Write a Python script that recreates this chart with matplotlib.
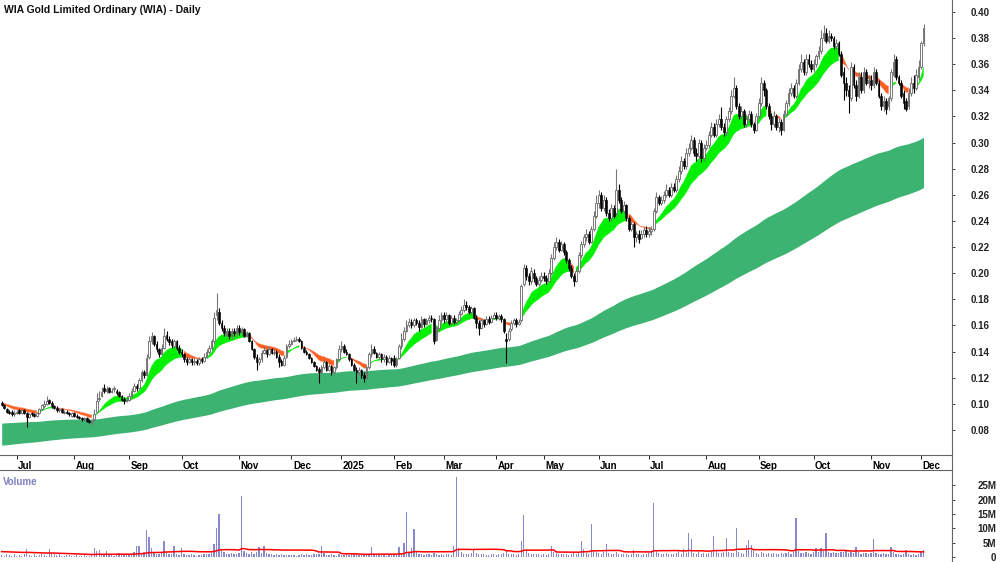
import numpy as np
import pandas as pd
import matplotlib
matplotlib.use('Agg')
import matplotlib.pyplot as plt
import matplotlib.transforms as mtransforms
from matplotlib.lines import Line2D

plt.rcParams['font.family'] = ['Liberation Sans', 'DejaVu Sans']

title = "WIA Gold Limited Ordinary (WIA) - Daily"

# ASX trading days shown (Jun 21 2024 .. Dec 2 2025)
holidays = ["2024-12-25", "2024-12-26", "2025-01-01", "2025-01-27",
            "2025-04-18", "2025-04-21", "2025-04-25", "2025-06-09"]
dates = pd.bdate_range("2024-06-21", "2025-12-02", freq="C", holidays=holidays)

# prices in cents, one line per month
opens = [
    10.1, 9.9, 9.6, 9.4, 9.4, 9.2,
    9.3, 9.5, 9.3, 9.5, 9.3, 9.0, 9.3, 9.2, 9.1, 9.3, 9.6, 9.8, 10.0, 10.3, 10.1, 9.8, 9.7, 9.5, 9.6, 9.3, 9.4, 9.3, 9.1,
    9.3, 9.1, 9.0, 8.9, 8.8, 8.9, 8.7, 8.6, 8.8, 9.4, 10.4, 10.6, 11.2, 11.0, 11.2, 10.9, 11.1, 11.0, 10.9, 10.6, 10.4, 10.2,
    10.3, 10.6, 11.0, 11.4, 11.2, 11.8, 12.4, 12.2, 13.6, 14.8, 15.2, 14.6, 14.2, 13.8, 14.3, 15.3, 15.0, 14.8, 14.4, 14.8, 14.3,
    14.0, 13.8, 13.4, 13.2, 13.4, 13.2, 13.3, 13.1, 13.4, 13.3, 13.6, 14.0, 14.3, 14.8, 16.8, 17.0, 16.2, 15.8, 15.3, 15.6, 15.2, 15.6, 15.4,
    15.8, 15.5, 15.7, 15.2, 15.4, 14.8, 14.2, 13.6, 13.2, 13.4, 13.9, 14.1, 13.8, 14.2, 13.9, 14.0, 13.6, 13.3, 13.0, 13.6, 14.4,
    14.6, 14.8, 14.9, 15.0, 14.8, 14.3, 14.0, 13.8, 13.5, 13.2, 12.9, 12.7, 12.4, 12.8, 13.2, 12.6, 12.9, 12.4, 12.8, 13.4,
    14.2, 14.4, 14.0, 13.8, 13.4, 13.0, 12.6, 12.4, 12.6, 12.2, 12.0, 12.8, 13.8, 14.2, 13.9, 13.6, 13.8, 13.4, 13.6, 13.2, 13.5,
    13.5, 13.0, 13.5, 14.4, 15.0, 15.6, 16.0, 16.3, 16.0, 16.4, 16.2, 15.9, 16.5, 16.1, 16.4, 16.6, 16.5, 14.9, 15.8, 16.4,
    16.8, 16.5, 16.8, 16.2, 16.6, 16.3, 16.4, 16.9, 17.2, 17.6, 17.4, 17.0, 17.3, 16.6, 16.2, 15.8, 16.4, 16.1, 16.5, 16.3, 16.6,
    16.8, 16.6, 16.7, 16.5, 15.0, 15.0, 15.7, 16.2, 16.4, 16.1, 16.4, 19.2, 20.4, 19.8, 19.4, 20.0, 19.6, 19.2, 19.5,
    19.8, 19.6, 19.4, 20.0, 21.2, 22.0, 22.4, 21.8, 22.2, 21.6, 21.0, 20.4, 19.8, 19.4, 20.2, 21.4, 22.2, 22.8, 23.0, 22.4, 23.4, 24.4,
    25.4, 26.0, 25.0, 25.6, 24.6, 24.2, 25.0, 24.6, 26.4, 25.6, 24.8, 25.2, 24.2, 23.4, 23.8, 22.8, 23.0, 22.7, 23.0, 23.3,
    23.0, 23.2, 23.4, 24.8, 25.8, 25.4, 25.6, 26.0, 26.4, 26.0, 26.6, 26.4, 27.2, 27.8, 28.6, 28.2, 29.2, 29.6, 30.2, 29.2, 29.0, 30.0, 28.8,
    29.6, 29.8, 30.6, 31.2, 30.6, 31.4, 31.8, 31.2, 30.8, 31.8, 32.4, 33.6, 34.2, 32.8, 32.0, 32.4, 31.4, 31.8, 32.2, 31.4, 31.0,
    32.0, 33.0, 34.6, 34.0, 32.8, 32.0, 31.4, 32.0, 31.2, 31.6, 31.0, 32.2, 33.0, 33.8, 34.2, 33.6, 34.6, 35.6, 36.2, 35.4, 36.4, 36.0,
    35.6, 36.0, 36.6, 37.0, 38.0, 38.4, 37.8, 38.2, 38.0, 37.4, 37.6, 36.8, 35.4, 34.6, 34.0, 33.4, 35.8, 34.4, 33.6, 35.0, 34.0, 35.4, 34.6,
    34.8, 34.4, 35.4, 34.6, 33.6, 32.8, 33.2, 32.8, 33.4, 35.2, 36.4, 35.0, 34.6, 33.8, 33.2, 32.8, 33.8, 34.6, 34.2, 35.0,
    35.8, 37.6,
]
highs = [
    10.2, 10.0, 9.7, 9.5, 9.5, 9.5,
    9.5, 9.6, 9.6, 9.6, 9.4, 9.3, 9.4, 9.3, 9.4, 9.7, 10.0, 10.3, 10.6, 10.4, 10.2, 9.9, 9.8, 9.7, 9.7, 9.5, 9.5, 9.4, 9.4,
    9.4, 9.2, 9.1, 9.0, 9.0, 9.0, 8.8, 8.8, 9.6, 10.8, 11.0, 11.3, 11.5, 11.4, 11.3, 11.2, 11.4, 11.1, 11.0, 10.7, 10.5, 10.6,
    10.8, 11.2, 11.6, 11.5, 12.0, 12.6, 12.6, 13.8, 15.2, 15.5, 15.3, 14.8, 14.3, 14.6, 15.8, 15.6, 15.2, 15.0, 15.0, 14.9, 14.5,
    14.2, 13.9, 13.6, 13.6, 13.5, 13.5, 13.4, 13.6, 13.6, 13.9, 14.2, 14.5, 15.0, 17.0, 18.5, 17.3, 16.4, 16.0, 15.8, 15.8, 15.8, 15.8, 16.0,
    16.0, 15.9, 15.8, 15.6, 15.5, 14.9, 14.3, 13.8, 13.6, 14.1, 14.4, 14.2, 14.4, 14.3, 14.2, 14.1, 13.8, 13.4, 13.7, 14.6, 14.9,
    15.0, 15.1, 15.2, 15.1, 14.9, 14.4, 14.1, 13.9, 13.6, 13.3, 13.0, 12.8, 13.0, 13.4, 13.3, 13.1, 13.0, 12.9, 13.5, 14.5,
    14.8, 14.6, 14.2, 13.9, 13.5, 13.1, 12.8, 12.8, 12.7, 12.4, 13.0, 14.0, 14.6, 14.4, 14.0, 14.0, 13.9, 13.8, 13.7, 13.7, 13.6,
    13.7, 13.6, 14.6, 15.4, 15.9, 16.4, 16.6, 16.5, 16.6, 16.6, 16.4, 16.7, 16.6, 16.6, 16.8, 16.8, 16.6, 16.0, 16.8, 17.0,
    17.0, 17.0, 16.9, 16.8, 16.8, 16.6, 17.1, 17.5, 18.0, 17.9, 17.6, 17.5, 17.4, 16.8, 16.4, 16.6, 16.5, 16.7, 16.7, 16.8, 17.0,
    17.0, 16.9, 16.9, 16.6, 15.4, 15.8, 16.4, 16.6, 16.6, 16.5, 19.2, 20.7, 20.6, 20.0, 20.5, 20.3, 19.8, 19.8, 20.1,
    20.1, 19.9, 20.3, 21.5, 22.4, 22.8, 22.6, 22.5, 22.4, 21.8, 21.2, 20.6, 20.0, 20.4, 21.6, 22.5, 23.0, 23.4, 23.2, 23.6, 24.8, 26.0,
    26.4, 26.2, 26.0, 25.8, 24.9, 25.3, 25.2, 28.0, 26.8, 25.8, 25.5, 25.3, 24.4, 24.0, 23.9, 23.2, 23.3, 23.3, 23.5, 23.6,
    23.5, 23.6, 25.0, 26.2, 26.0, 25.9, 26.3, 26.8, 26.6, 26.9, 26.9, 27.5, 28.2, 29.0, 28.8, 29.6, 30.0, 30.6, 30.4, 29.6, 30.3, 30.2, 29.9,
    30.2, 30.9, 31.6, 31.5, 31.8, 32.2, 32.7, 31.5, 32.0, 32.7, 34.0, 35.0, 34.4, 33.0, 32.8, 32.6, 32.2, 32.5, 32.4, 31.6, 32.3,
    33.4, 35.0, 34.8, 34.2, 33.0, 32.3, 32.4, 32.2, 31.9, 31.8, 32.5, 33.3, 34.2, 34.6, 34.4, 34.9, 36.0, 36.8, 36.4, 36.8, 36.8, 36.3,
    36.4, 36.8, 37.4, 38.6, 39.0, 38.8, 38.6, 38.4, 38.2, 37.9, 37.8, 37.0, 35.8, 35.0, 34.4, 36.2, 36.0, 34.8, 35.4, 35.4, 35.8, 35.6, 35.2,
    35.2, 35.8, 35.6, 34.8, 33.8, 33.6, 33.4, 33.6, 35.6, 36.8, 36.6, 35.2, 34.8, 34.0, 33.4, 34.2, 35.0, 35.2, 35.6, 36.3,
    37.8, 39.1,
]
lows = [
    9.8, 9.6, 9.3, 9.2, 9.1, 9.1,
    9.2, 9.2, 9.2, 9.2, 8.2, 8.9, 9.1, 9.0, 9.0, 9.2, 9.5, 9.7, 9.9, 10.0, 9.7, 9.6, 9.4, 9.4, 9.3, 9.2, 9.2, 9.1, 9.0,
    9.0, 8.9, 8.8, 8.7, 8.7, 8.6, 8.5, 8.4, 8.7, 9.3, 10.2, 10.5, 10.8, 10.8, 10.8, 10.8, 10.9, 10.7, 10.5, 10.2, 10.0, 10.1,
    10.2, 10.5, 10.9, 11.0, 11.1, 11.7, 12.0, 12.1, 13.4, 14.6, 14.4, 14.0, 13.6, 13.7, 14.2, 14.8, 14.5, 14.3, 14.3, 14.1, 13.8,
    13.6, 13.2, 13.0, 13.1, 13.0, 13.0, 13.0, 13.0, 13.1, 13.2, 13.5, 13.8, 14.1, 14.6, 16.4, 16.0, 15.6, 15.2, 15.1, 15.0, 15.0, 15.2, 15.2,
    15.3, 15.3, 15.1, 15.1, 14.7, 14.1, 13.4, 12.6, 13.0, 13.2, 13.8, 13.6, 13.7, 13.8, 13.7, 13.5, 12.8, 12.9, 12.9, 13.5, 14.3,
    14.5, 14.7, 14.8, 14.7, 14.2, 13.9, 13.7, 13.4, 13.1, 12.8, 12.5, 11.6, 12.3, 12.7, 12.5, 12.5, 12.2, 12.3, 12.7, 13.3,
    14.0, 13.9, 13.7, 13.3, 12.9, 12.5, 11.6, 12.2, 12.0, 11.7, 11.9, 12.7, 13.6, 13.8, 13.5, 13.4, 13.2, 13.2, 13.0, 13.1, 13.0,
    12.8, 12.8, 13.4, 14.2, 14.8, 15.5, 15.9, 15.8, 15.9, 16.0, 15.6, 15.8, 15.9, 16.0, 16.2, 16.3, 14.6, 14.8, 15.6, 16.2,
    16.2, 16.3, 16.0, 16.0, 16.1, 16.1, 16.3, 16.8, 17.0, 17.2, 16.9, 16.9, 16.5, 15.8, 15.3, 15.7, 15.9, 16.0, 16.1, 16.2, 16.5,
    16.4, 16.4, 16.3, 15.4, 13.1, 14.8, 15.6, 16.0, 15.9, 16.0, 16.3, 19.0, 19.5, 19.1, 19.2, 19.3, 19.0, 19.0, 19.3,
    19.4, 19.2, 19.3, 19.9, 21.0, 21.8, 21.6, 21.7, 21.4, 20.8, 20.2, 19.6, 19.0, 19.3, 20.0, 21.2, 22.0, 22.5, 22.2, 22.3, 23.2, 24.2,
    25.0, 24.8, 24.8, 24.4, 24.0, 24.0, 24.2, 24.4, 25.4, 24.6, 24.6, 24.0, 23.2, 23.2, 22.0, 22.4, 22.3, 22.6, 22.8, 22.8,
    22.8, 22.9, 23.2, 24.6, 25.2, 25.2, 25.4, 25.8, 25.8, 25.8, 26.2, 26.2, 27.0, 27.6, 28.0, 28.0, 29.0, 29.4, 29.0, 28.6, 28.8, 28.5, 28.6,
    29.4, 29.6, 30.4, 30.4, 30.4, 31.2, 31.0, 30.5, 30.6, 31.6, 32.2, 33.4, 32.6, 31.8, 31.8, 31.2, 31.2, 31.6, 31.2, 30.7, 30.9,
    31.8, 32.8, 33.6, 32.6, 31.8, 31.0, 31.2, 31.0, 30.8, 30.6, 30.9, 32.0, 32.8, 33.6, 33.4, 33.4, 34.4, 35.4, 35.2, 35.2, 35.8, 35.4,
    35.4, 35.8, 36.4, 36.8, 37.8, 37.6, 37.6, 37.8, 37.2, 37.2, 36.6, 35.0, 33.3, 33.6, 32.3, 33.2, 34.2, 33.2, 33.4, 33.8, 33.8, 34.4, 34.2,
    34.0, 34.2, 34.4, 33.4, 32.5, 32.4, 32.2, 32.5, 33.2, 35.0, 34.8, 34.4, 33.4, 32.6, 32.4, 32.6, 33.6, 33.8, 34.0, 34.8,
    35.6, 37.4,
]
closes = [
    9.9, 9.7, 9.4, 9.3, 9.2, 9.3,
    9.4, 9.3, 9.5, 9.3, 9.0, 9.2, 9.2, 9.1, 9.3, 9.6, 9.9, 10.0, 10.2, 10.1, 9.8, 9.7, 9.5, 9.6, 9.4, 9.4, 9.3, 9.2, 9.3,
    9.1, 9.0, 8.9, 8.8, 8.9, 8.7, 8.6, 8.7, 9.2, 10.2, 10.4, 10.9, 11.0, 11.1, 10.9, 11.0, 11.2, 10.8, 10.6, 10.3, 10.2, 10.3,
    10.6, 11.0, 11.4, 11.2, 11.8, 12.4, 12.2, 13.5, 14.8, 15.2, 14.6, 14.2, 13.8, 14.3, 15.2, 15.0, 14.7, 14.5, 14.8, 14.3, 14.0,
    13.8, 13.4, 13.2, 13.4, 13.2, 13.3, 13.1, 13.4, 13.3, 13.6, 14.0, 14.3, 14.8, 16.6, 17.2, 16.2, 15.8, 15.4, 15.6, 15.2, 15.6, 15.4, 15.8,
    15.5, 15.7, 15.2, 15.4, 14.8, 14.2, 13.6, 13.2, 13.4, 13.9, 14.1, 13.8, 14.2, 13.9, 14.0, 13.6, 13.2, 13.0, 13.5, 14.4, 14.6,
    14.8, 14.9, 15.0, 14.8, 14.3, 14.0, 13.8, 13.5, 13.2, 12.9, 12.6, 12.4, 12.8, 13.2, 12.6, 12.9, 12.4, 12.8, 13.4, 14.2,
    14.4, 14.0, 13.8, 13.4, 13.0, 12.6, 12.4, 12.6, 12.2, 12.0, 12.8, 13.8, 14.2, 13.9, 13.6, 13.8, 13.4, 13.6, 13.2, 13.5, 13.3,
    13.0, 13.4, 14.4, 15.0, 15.6, 16.0, 16.3, 16.0, 16.4, 16.2, 15.9, 16.5, 16.1, 16.4, 16.6, 16.5, 14.8, 15.8, 16.4, 16.8,
    16.5, 16.8, 16.2, 16.6, 16.3, 16.4, 16.9, 17.2, 17.6, 17.4, 17.0, 17.3, 16.6, 16.2, 15.8, 16.4, 16.1, 16.5, 16.3, 16.6, 16.8,
    16.6, 16.7, 16.5, 15.6, 14.8, 15.6, 16.2, 16.4, 16.1, 16.3, 19.0, 20.4, 19.8, 19.4, 20.2, 19.6, 19.2, 19.5, 19.8,
    19.6, 19.4, 20.0, 21.2, 22.0, 22.4, 21.8, 22.2, 21.6, 21.0, 20.4, 19.8, 19.4, 20.2, 21.4, 22.2, 22.8, 23.0, 22.4, 23.4, 24.4, 25.4,
    26.0, 25.0, 25.6, 24.6, 24.2, 25.0, 24.4, 26.4, 25.6, 24.8, 25.2, 24.2, 23.4, 23.8, 22.8, 23.0, 22.6, 23.0, 23.3, 23.0,
    23.2, 23.4, 24.8, 25.8, 25.4, 25.6, 26.0, 26.4, 26.0, 26.6, 26.4, 27.2, 27.8, 28.6, 28.2, 29.2, 29.6, 30.2, 29.2, 29.0, 30.0, 28.8, 29.6,
    29.8, 30.6, 31.2, 30.6, 31.4, 31.8, 31.2, 30.8, 31.8, 32.4, 33.6, 34.2, 32.8, 32.0, 32.4, 31.4, 31.8, 32.2, 31.4, 31.0, 32.0,
    33.0, 34.6, 34.0, 32.8, 32.0, 31.4, 32.0, 31.2, 31.6, 31.0, 32.2, 33.0, 33.8, 34.2, 33.6, 34.6, 35.6, 36.2, 35.4, 36.4, 36.0, 35.6,
    36.0, 36.6, 37.0, 38.0, 38.4, 37.8, 38.2, 38.0, 37.4, 37.6, 36.8, 35.2, 34.6, 34.0, 33.6, 35.8, 34.4, 33.6, 35.0, 34.0, 35.4, 34.6, 34.8,
    34.4, 35.4, 34.6, 33.6, 32.8, 33.2, 32.6, 33.4, 35.4, 36.2, 35.0, 34.6, 33.6, 33.0, 32.6, 33.8, 34.6, 34.2, 35.2, 35.8,
    37.6, 38.8,
]
# volume in millions of shares
volume = [
    0.8, 0.5, 1.2, 0.6, 0.4, 0.9,
    0.5, 0.7, 0.4, 1.1, 2.8, 0.6, 0.5, 0.9, 0.4, 0.8, 1.2, 0.7, 0.5, 2.9, 1.4, 0.9, 0.6, 1.0, 0.5, 0.4, 0.7, 0.6, 0.5,
    0.4, 0.6, 0.5, 0.3, 0.7, 0.5, 0.4, 0.9, 3.0, 2.2, 2.6, 1.0, 0.8, 2.0, 1.2, 0.6, 0.5, 0.9, 1.3, 0.7, 0.6, 1.1,
    0.9, 1.2, 1.6, 3.8, 4.0, 1.5, 1.8, 9.4, 7.0, 3.0, 1.4, 1.1, 0.9, 1.3, 5.7, 1.6, 1.0, 1.2, 4.0, 1.1, 0.8,
    3.0, 1.1, 0.8, 0.6, 0.9, 0.7, 0.5, 0.8, 0.6, 0.9, 1.2, 1.0, 1.4, 4.6, 10.0, 15.0, 2.4, 1.6, 1.2, 1.0, 1.5, 0.9, 1.1,
    1.4, 21.3, 2.2, 1.5, 1.2, 1.8, 1.0, 1.6, 3.5, 1.3, 4.0, 1.4, 1.1, 0.9, 0.8, 1.0, 0.7, 0.9, 0.6, 0.8, 0.7,
    0.6, 0.8, 0.5, 0.7, 0.9, 0.6, 1.1, 0.8, 0.7, 1.0, 0.9, 1.2, 4.0, 1.3, 0.8, 0.6, 0.9, 0.7, 0.5, 1.0,
    0.8, 0.6, 1.0, 0.7, 0.9, 1.1, 1.3, 0.8, 0.6, 0.9, 1.0, 1.2, 3.5, 1.1, 0.8, 0.7, 0.6, 0.9, 0.5, 0.7, 0.8,
    0.9, 1.2, 3.5, 1.5, 5.0, 15.8, 1.8, 3.0, 9.8, 1.6, 1.2, 1.0, 0.8, 1.1, 0.9, 0.7, 1.3, 1.0, 0.8, 0.9,
    0.7, 0.9, 1.1, 0.8, 4.0, 28.0, 3.0, 1.6, 1.2, 0.9, 1.0, 1.3, 2.6, 1.4, 1.1, 0.9, 1.0, 0.7, 0.8, 1.2, 0.9,
    0.8, 1.0, 0.9, 1.5, 2.3, 1.2, 1.1, 0.9, 0.8, 1.0, 5.6, 14.7, 2.8, 1.4, 1.2, 1.0, 0.9, 1.1, 0.8,
    1.0, 0.8, 1.2, 4.0, 1.9, 1.4, 1.0, 1.2, 0.9, 1.1, 0.8, 1.0, 1.3, 1.1, 1.6, 5.6, 2.8, 1.4, 1.2, 11.5, 2.2, 1.8,
    1.5, 1.2, 1.8, 4.7, 1.3, 1.0, 1.2, 1.6, 1.1, 0.9, 1.0, 1.2, 0.8, 0.9, 2.5, 1.1, 0.9, 0.8, 1.0, 1.2,
    1.3, 1.6, 18.9, 2.0, 1.5, 1.2, 1.0, 1.4, 1.1, 0.9, 1.2, 1.3, 2.3, 1.1, 2.9, 1.5, 8.5, 6.3, 1.4, 1.2, 1.6, 1.0, 1.3,
    1.2, 1.4, 1.6, 7.4, 2.3, 1.5, 1.3, 1.6, 6.7, 1.8, 1.4, 1.5, 10.2, 1.9, 1.3, 1.2, 4.3, 6.0, 4.3, 2.8, 1.5,
    1.2, 1.6, 1.4, 1.1, 1.3, 1.0, 1.5, 1.2, 0.9, 1.4, 1.1, 1.3, 1.6, 1.2, 1.8, 13.8, 2.0, 1.5, 1.3, 1.7, 1.4, 1.2,
    1.8, 3.0, 1.6, 3.2, 2.0, 8.3, 1.9, 1.5, 1.7, 1.3, 1.4, 1.6, 1.8, 2.5, 1.5, 1.9, 1.4, 3.6, 1.6, 1.2, 1.5, 1.3, 1.1,
    1.4, 6.3, 1.5, 1.2, 1.0, 1.3, 1.1, 0.9, 3.4, 1.6, 1.2, 1.0, 0.8, 1.1, 2.5, 0.9, 0.7, 1.0, 0.8, 1.2,
    1.6, 2.3,
]

# indicator settings (EMA spans and the values they carry in from before the window)
short_spans = (10, 21)
short_seed = (0.1000, 0.1008)
long_spans = (145, 240)
long_seed = (0.085, 0.068)
vol_ma_len = 40
vol_ma_seed = 1.9
price_ticks = [0.08, 0.10, 0.12, 0.14, 0.16, 0.18, 0.20, 0.22, 0.24, 0.26,
               0.28, 0.30, 0.32, 0.34, 0.36, 0.38, 0.40]
vol_ticks = [0, 5, 10, 15, 20, 25]

for name, arr in [("opens", opens), ("highs", highs), ("lows", lows),
                  ("closes", closes), ("volume", volume)]:
    if len(arr) != len(dates):
        raise SystemExit("%s has %d values, dates %d" % (name, len(arr), len(dates)))

o = np.array(opens) / 100
h = np.array(highs) / 100
l = np.array(lows) / 100
c = np.array(closes) / 100
h = np.maximum(h, np.maximum(o, c))
l = np.minimum(l, np.minimum(o, c))
v = np.array(volume)
x = np.arange(len(dates))


def ema(vals, span, seed):
    a = 2.0 / (span + 1)
    out = np.empty(len(vals))
    prev = seed
    for i, val in enumerate(vals):
        prev = prev + a * (val - prev)
        out[i] = prev
    return out


fast = ema(c, short_spans[0], short_seed[0])
slow = ema(c, short_spans[1], short_seed[1])
long_a = ema(c, long_spans[0], long_seed[0])
long_b = ema(c, long_spans[1], long_seed[1])
rising = np.diff(slow, prepend=short_seed[1]) >= 0
vpad = np.concatenate([np.full(vol_ma_len - 1, vol_ma_seed), v])
vol_ma = pd.Series(vpad).rolling(vol_ma_len).mean().to_numpy()[vol_ma_len - 1:]

W, H = 1000, 562
fig = plt.figure(figsize=(W / 100, H / 100), dpi=100)
ax = fig.add_axes([0, 1 - 455 / H, 952 / W, 455 / H])
axv = fig.add_axes([0, 0, 952 / W, 92 / H])

# long term band
ax.fill_between(x, long_a, long_b, color='#3cb371', lw=0, zorder=1)
# short term ribbon
ax.fill_between(x, fast, slow, where=rising, color='#00f000', lw=0.3,
                edgecolor='#00f000', zorder=2)
ax.fill_between(x, fast, slow, where=~rising, color='#ff6020', lw=0.3,
                edgecolor='#ff8060', zorder=2)

# candles
up = c >= o
ax.vlines(x[up], l[up], h[up], color='#777777', lw=0.8, zorder=3)
ax.vlines(x[~up], l[~up], h[~up], color='black', lw=0.8, zorder=3)
body_lo = np.minimum(o, c)
body_h = np.maximum(np.abs(c - o), 0.0004)
ax.bar(x[up], body_h[up], bottom=body_lo[up], width=0.7, color='white',
       edgecolor='#666666', lw=0.6, zorder=4)
ax.bar(x[~up], body_h[~up], bottom=body_lo[~up], width=0.7, color='black',
       edgecolor='black', lw=0.4, zorder=4)

ax.set_xlim(-0.68, 380.4)
ax.set_ylim(0.0608, 0.4092)
ax.yaxis.tick_right()
ax.set_yticks(price_ticks)
ax.set_yticklabels(["%.2f" % t for t in price_ticks])
ax.tick_params(axis='y', direction='out', length=2, width=0.6, pad=25,
               labelsize=7, colors='#222222')
for lbl in ax.get_yticklabels():
    lbl.set_ha('right')
    lbl.set_fontweight('bold')

# month ticks
month_start = [i for i in range(1, len(dates)) if dates[i].month != dates[i - 1].month]
month_lbl = [str(dates[i].year) if dates[i].month == 1 else dates[i].strftime('%b')
             for i in month_start]
ax.set_xticks(month_start)
ax.set_xticklabels(month_lbl)
ax.tick_params(axis='x', direction='out', length=3, width=0.6, pad=1,
               labelsize=7)
offset = mtransforms.ScaledTranslation(1.5 / 100, 0, fig.dpi_scale_trans)
for lbl in ax.get_xticklabels():
    lbl.set_ha('left')
    lbl.set_fontweight('bold')
    lbl.set_transform(lbl.get_transform() + offset)

for sp in ['left', 'top']:
    ax.spines[sp].set_visible(False)
for sp in ['bottom', 'right']:
    ax.spines[sp].set_color('#666666')
    ax.spines[sp].set_linewidth(0.8)

# volume panel
axv.bar(x, v, width=0.5, color='#8888cc', lw=0, zorder=2)
axv.plot(x, vol_ma, color='#ff0000', lw=1.1, zorder=3)
axv.set_xlim(-0.68, 380.4)
axv.set_ylim(-1.75, 30.4)
axv.set_xticks([])
axv.yaxis.tick_right()
axv.set_yticks(vol_ticks)
axv.set_yticklabels(["0" if t == 0 else "%dM" % t for t in vol_ticks])
axv.tick_params(axis='y', direction='out', length=2, width=0.6, pad=30,
                labelsize=7, colors='#222222')
for lbl in axv.get_yticklabels():
    lbl.set_ha('right')
    lbl.set_fontweight('bold')
for sp in ['left', 'bottom']:
    axv.spines[sp].set_visible(False)
for sp in ['top', 'right']:
    axv.spines[sp].set_color('#666666')
    axv.spines[sp].set_linewidth(0.8)
axv.text(0.003, 0.92, "Volume", transform=axv.transAxes, ha='left', va='top',
         fontsize=7, fontweight='bold', color='#8080c0')

# right axis line through the date strip
fig.add_artist(Line2D([952 / W, 952 / W], [92 / H, 1 - 455 / H],
                      transform=fig.transFigure, color='#666666', lw=0.8))

fig.text(0.004, 1 - 10 / H, title, ha='left', va='center', fontsize=7.5,
         fontweight='bold', color='#111111')

fig.savefig("out.png", dpi=100)
